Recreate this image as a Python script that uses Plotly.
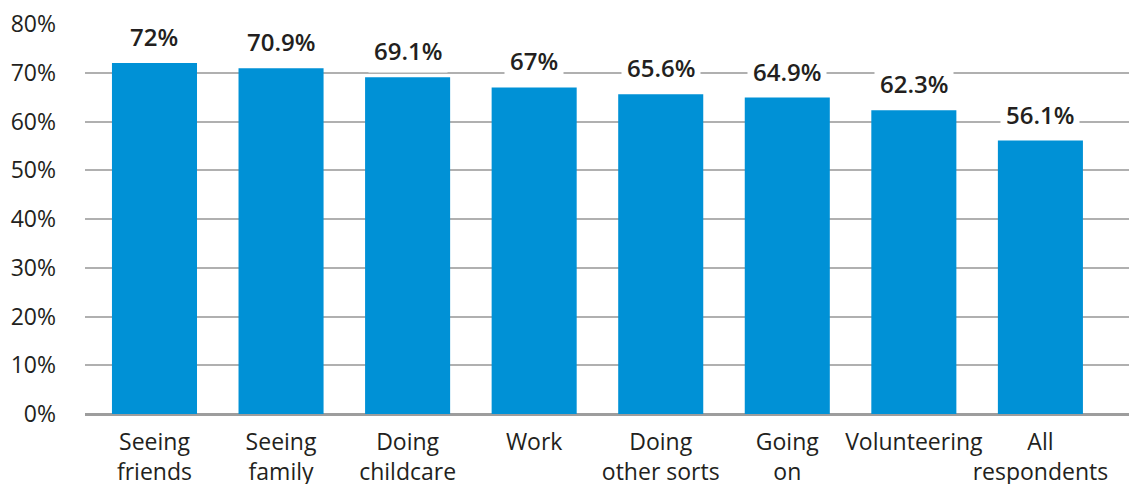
import plotly.graph_objects as go

# Share of respondents, by activity
categories = [
    "Seeing<br>friends",
    "Seeing<br>family",
    "Doing<br>childcare",
    "Work",
    "Doing<br>other sorts",
    "Going<br>on",
    "Volunteering",
    "All<br>respondents",
]
values = [72, 70.9, 69.1, 67, 65.6, 64.9, 62.3, 56.1]
value_labels = ["72%", "70.9%", "69.1%", "67%", "65.6%", "64.9%", "62.3%", "56.1%"]
y_ticks = [0, 10, 20, 30, 40, 50, 60, 70, 80]
y_tick_labels = [f"{t}%" for t in y_ticks]

BAR_COLOR = "#0091d6"
TEXT_COLOR = "#231f20"
FONT = "Open Sans"

fig = go.Figure(
    go.Bar(
        x=categories,
        y=values,
        marker=dict(color=BAR_COLOR, line=dict(width=0)),
        hoverinfo="skip",
    )
)

# Value labels sit on a white box so gridlines break around them
for cat, val, lab in zip(categories, values, value_labels):
    fig.add_annotation(
        x=cat,
        y=val,
        text=lab,
        showarrow=False,
        xanchor="center",
        yanchor="bottom",
        yshift=4,
        bgcolor="white",
        borderpad=5,
        font=dict(family=FONT, size=24, color=TEXT_COLOR, weight=600),
    )

fig.update_layout(
    width=1129,
    height=484,
    margin=dict(l=85, r=0, t=24, b=70, autoexpand=False),
    paper_bgcolor="white",
    plot_bgcolor="white",
    bargap=0.328,
    showlegend=False,
    font=dict(family=FONT, size=23, color=TEXT_COLOR),
)

fig.update_xaxes(
    type="category",
    range=[-0.549, 7.70],
    automargin=False,
    tickangle=0,
    showgrid=False,
    showline=False,
    ticks="",
    ticklabelstandoff=12,
    tickfont=dict(family=FONT, size=23, color=TEXT_COLOR),
)

fig.update_yaxes(
    range=[0, 80],
    automargin=False,
    tickvals=y_ticks,
    ticktext=y_tick_labels,
    showgrid=True,
    gridcolor="#b0b0b0",
    gridwidth=1.5,
    zeroline=True,
    zerolinecolor="#9d9d9d",
    zerolinewidth=3,
    showline=False,
    ticks="",
    ticklabelstandoff=28,
    tickfont=dict(family=FONT, size=23, color=TEXT_COLOR),
)

fig.write_html("out.html")
